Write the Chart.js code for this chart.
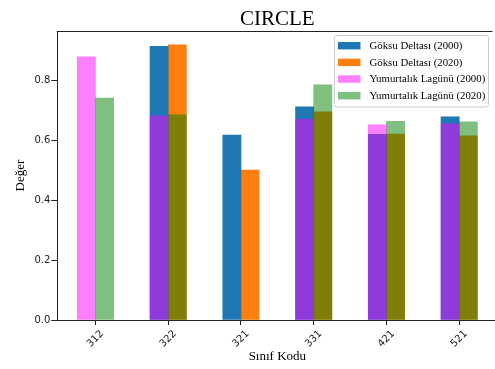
<!DOCTYPE html>
<html>
<head>
<meta charset="utf-8">
<script src="https://cdn.jsdelivr.net/npm/chart.js@4"></script>
<style>
  html, body { margin: 0; padding: 0; background: #fff; overflow: hidden; }
  #wrap { width: 495px; height: 369px; overflow: hidden; position: relative; }
  canvas { display: block; }
</style>
</head>
<body>
<div id="wrap"><canvas id="c" width="500" height="369"></canvas></div>
<script>
// Class codes on the x axis
const categories = ['312', '322', '321', '331', '421', '521'];

// Class values per site and year (null = class not present)
const goksu2000      = [null, 0.913, 0.617, 0.711, 0.619, 0.678];
const goksu2020      = [null, 0.918, 0.500, 0.694, 0.620, 0.614];
const yumurtalik2000 = [0.878, 0.681, null, 0.669, 0.651, 0.654];
const yumurtalik2020 = [0.740, 0.684, null, 0.784, 0.663, 0.661];

const yTicks = [0, 0.2, 0.4, 0.6, 0.8];

const seriesNames = [
  'Göksu Deltası (2000)',
  'Göksu Deltası (2020)',
  'Yumurtalık Lagünü (2000)',
  'Yumurtalık Lagünü (2020)'
];

// bar width in category units; 2000 bars sit left of the code, 2020 bars right
const BAR_W = 0.25;

function points(values, shift) {
  return values
    .map((v, i) => ({ x: i + shift, y: v }))
    .filter(p => p.y !== null);
}

const allValues = [...goksu2000, ...goksu2020, ...yumurtalik2000, ...yumurtalik2020]
  .filter(v => v !== null);
const yMax = Math.max(...allValues) * 1.05;
const span = (categories.length - 1) + 2 * BAR_W;
const xMin = -BAR_W - 0.05 * span;
const xMax = (categories.length - 1) + BAR_W + 0.05 * span;

const colors = ['#1f77b4', '#ff7f0e', 'rgba(255,0,255,0.5)', 'rgba(0,128,0,0.5)'];

const common = { grouped: false, barPercentage: 1, categoryPercentage: 1, borderWidth: 0 };

const datasets = [
  { ...common, label: seriesNames[0], data: points(goksu2000, -BAR_W / 2), backgroundColor: colors[0], order: 2 },
  { ...common, label: seriesNames[1], data: points(goksu2020,  BAR_W / 2), backgroundColor: colors[1], order: 2 },
  { ...common, label: seriesNames[2], data: points(yumurtalik2000, -BAR_W / 2), backgroundColor: colors[2], order: 1 },
  { ...common, label: seriesNames[3], data: points(yumurtalik2020,  BAR_W / 2), backgroundColor: colors[3], order: 1 }
];

const INK = '#222';
const SERIF = '"Liberation Serif", "Times New Roman", serif';
const SANS = '"DejaVu Sans", sans-serif';

// Top spine, title and framed legend
const decorations = {
  id: 'decorations',
  afterDraw(chart) {
    const { ctx, chartArea: a } = chart;
    ctx.save();

    ctx.fillStyle = INK;
    ctx.fillRect(a.left - 0.5, Math.round(a.top), 493 - a.left, 1);

    ctx.fillStyle = '#000';
    ctx.font = '21px ' + SERIF;
    ctx.textAlign = 'center';
    ctx.textBaseline = 'alphabetic';
    ctx.fillText('CIRCLE', (a.left + a.right) / 2, 25);

    // legend box
    const bx = 334.5, by = 35.5, bw = 154, bh = 71.5, r = 2.5;
    ctx.beginPath();
    ctx.moveTo(bx + r, by);
    ctx.lineTo(bx + bw - r, by);
    ctx.arcTo(bx + bw, by, bx + bw, by + r, r);
    ctx.lineTo(bx + bw, by + bh - r);
    ctx.arcTo(bx + bw, by + bh, bx + bw - r, by + bh, r);
    ctx.lineTo(bx + r, by + bh);
    ctx.arcTo(bx, by + bh, bx, by + bh - r, r);
    ctx.lineTo(bx, by + r);
    ctx.arcTo(bx, by, bx + r, by, r);
    ctx.closePath();
    ctx.fillStyle = 'rgba(255,255,255,0.8)';
    ctx.fill();
    ctx.strokeStyle = '#cccccc';
    ctx.lineWidth = 1;
    ctx.stroke();

    ctx.font = '10.8px ' + SERIF;
    ctx.textAlign = 'left';
    ctx.textBaseline = 'middle';
    chart.data.datasets.forEach((ds, k) => {
      const cy = 45.7 + k * 16.67;
      ctx.fillStyle = ds.backgroundColor;
      ctx.fillRect(338, cy - 3.7, 22.5, 7.4);
      ctx.fillStyle = '#000';
      ctx.fillText(ds.label, 369.5, cy + 0.5);
    });

    ctx.restore();
  }
};

new Chart(document.getElementById('c'), {
  type: 'bar',
  data: { datasets },
  plugins: [decorations],
  options: {
    responsive: false,
    animation: false,
    devicePixelRatio: 1,
    // plot area runs slightly past the visible right edge
    layout: { padding: { left: 0, top: 31, right: 2.6, bottom: 0 } },
    plugins: {
      legend: { display: false },
      tooltip: { enabled: false },
      title: { display: false }
    },
    scales: {
      x: {
        type: 'linear',
        min: xMin,
        max: xMax,
        offset: false,
        grid: { display: true, drawOnChartArea: false, drawTicks: true, tickLength: 5, tickColor: INK, offset: false },
        border: { display: true, color: INK, width: 1 },
        afterBuildTicks: (axis) => { axis.ticks = categories.map((_, i) => ({ value: i })); },
        afterFit: (axis) => { axis.height = 49; },
        ticks: {
          autoSkip: false,
          minRotation: 45,
          maxRotation: 45,
          labelOffset: 6.6,
          padding: 3,
          color: INK,
          font: { family: SANS, size: 10 },
          callback: (v) => categories[v]
        },
        title: {
          display: true,
          text: 'Sınıf Kodu',
          color: '#000',
          font: { family: SERIF, size: 13 },
          padding: { top: 0, bottom: 4.2 }
        }
      },
      y: {
        type: 'linear',
        min: 0,
        max: yMax,
        grid: { display: true, drawOnChartArea: false, drawTicks: true, tickLength: 6, tickColor: INK },
        border: { display: true, color: INK, width: 1 },
        afterBuildTicks: (axis) => { axis.ticks = yTicks.map(v => ({ value: v })); },
        afterFit: (axis) => { axis.width = 57.3; },
        ticks: {
          padding: 1,
          color: INK,
          font: { family: SANS, size: 10 },
          callback: (v) => v.toFixed(1)
        },
        title: {
          display: true,
          text: 'Değer',
          color: '#000',
          font: { family: SERIF, size: 13 },
          padding: { top: 12.5, bottom: 0 }
        }
      }
    }
  }
});
</script>
</body>
</html>
